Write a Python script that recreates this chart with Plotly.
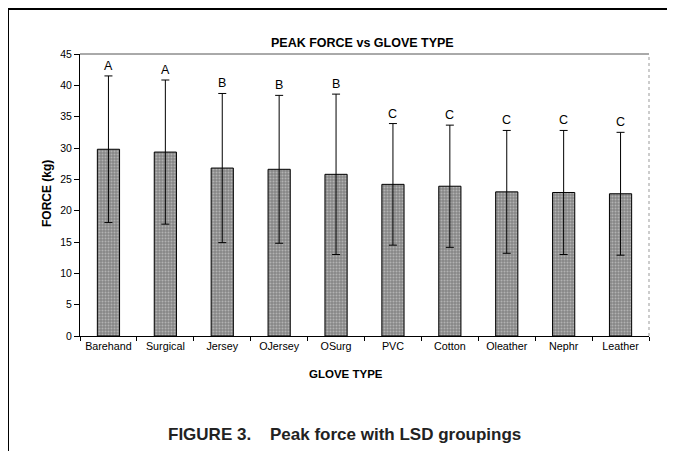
import plotly.graph_objects as go

categories = ["Barehand", "Surgical", "Jersey", "OJersey", "OSurg", "PVC", "Cotton", "Oleather", "Nephr", "Leather"]
peak_force = [29.8, 29.35, 26.8, 26.6, 25.8, 24.2, 23.9, 23.0, 22.9, 22.7]
std_dev = [11.7, 11.5, 11.9, 11.8, 12.8, 9.7, 9.75, 9.8, 9.9, 9.8]
lsd_groups = ["A", "A", "B", "B", "B", "C", "C", "C", "C", "C"]
y_ticks = [0, 5, 10, 15, 20, 25, 30, 35, 40, 45]

OFF = 8  # page body margin
W, H = 675 - OFF, 451 - OFF
L, R, T, B = 80, 649, 54, 336  # target screen pixels of the plot area

def px_x(x):
    return (x - L) / (R - L)

def px_y(y):
    return (B - y) / (B - T)

fig = go.Figure()
fig.add_trace(go.Bar(
    x=categories, y=peak_force, width=0.39,
    marker=dict(
        color="#9a9a9a",
        line=dict(color="black", width=1),
        pattern=dict(shape=".", bgcolor="#868686", fgcolor="#dedede", size=3, solidity=0.35),
    ),
    error_y=dict(type="data", array=std_dev, visible=True, color="black", thickness=1, width=4),
    showlegend=False,
))

ann = []
for c, v, s, g in zip(categories, peak_force, std_dev, lsd_groups):
    ann.append(dict(x=c, y=v + s, xref="x", yref="y", text=g, showarrow=False,
                    yanchor="bottom", yshift=1, font=dict(family="Liberation Sans, Arial", size=12.5, color="black")))

ann += [
    dict(x=px_x(362.5), y=px_y(42.7), xref="paper", yref="paper", text="<b>PEAK FORCE vs GLOVE TYPE</b>",
         showarrow=False, xanchor="center", yanchor="middle",
         font=dict(family="Liberation Sans, Arial", size=12.5, color="black")),
    dict(x=px_x(47), y=px_y(194), xref="paper", yref="paper", text="<b>FORCE (kg)</b>", textangle=-90,
         showarrow=False, xanchor="center", yanchor="middle",
         font=dict(family="Liberation Sans, Arial", size=12, color="black")),
    dict(x=px_x(346), y=px_y(374), xref="paper", yref="paper", text="<b>GLOVE TYPE</b>",
         showarrow=False, xanchor="center", yanchor="middle",
         font=dict(family="Liberation Sans, Arial", size=11.5, color="black")),
    dict(x=px_x(344.5), y=px_y(434), xref="paper", yref="paper",
         text="<b>FIGURE 3.    Peak force with LSD groupings</b>",
         showarrow=False, xanchor="center", yanchor="middle",
         font=dict(family="Liberation Sans, Arial", size=17, color="#222")),
]

shapes = [
    dict(type="line", xref="paper", yref="paper", x0=px_x(8), x1=px_x(700), y0=px_y(9), y1=px_y(9),
         line=dict(color="black", width=2)),
    dict(type="line", xref="paper", yref="paper", x0=px_x(8), x1=px_x(8), y0=px_y(9), y1=px_y(470),
         line=dict(color="black", width=2)),
    dict(type="line", xref="paper", yref="paper", x0=0, x1=1, y0=1, y1=1,
         line=dict(color="#555", width=1)),
    dict(type="line", xref="paper", yref="paper", x0=1, x1=1, y0=0, y1=1,
         line=dict(color="#999", width=1, dash="dot")),
]

fig.update_layout(
    width=W, height=H,
    margin=dict(l=L - OFF, r=W - (R - OFF), t=T - OFF, b=H - (B - OFF), pad=0),
    paper_bgcolor="white", plot_bgcolor="white",
    annotations=ann, shapes=shapes,
    font=dict(family="Liberation Sans, Arial", color="black"),
)
fig.update_xaxes(
    type="category", showgrid=False, showline=True, linecolor="black", linewidth=1,
    ticks="outside", tickson="boundaries", ticklen=4, tickcolor="black",
    tickfont=dict(size=10.75, color="black"),
)
fig.update_yaxes(
    range=[0, 45], tickvals=y_ticks, showgrid=False, showline=True, linecolor="black", linewidth=1,
    ticks="outside", ticklen=5, tickcolor="black", tickfont=dict(size=10.5, color="black"),
    zeroline=False,
)

fig.write_html("out.html")
